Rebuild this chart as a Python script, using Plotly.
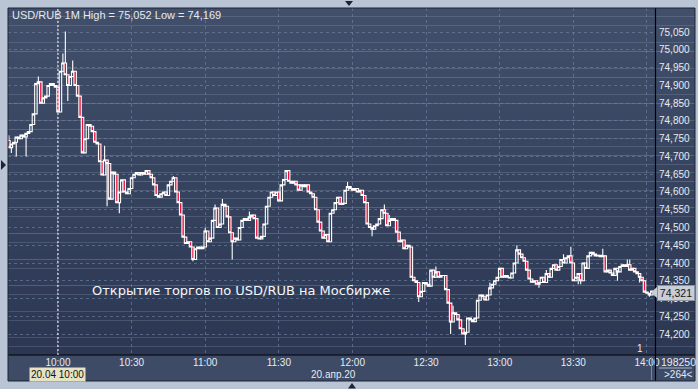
import plotly.graph_objects as go
import pandas as pd

# ---------------- data ----------------
# 1-minute closes, 20.04.2020 from 09:40 to 14:02
close = [
    74.725, 74.735, 74.740, 74.755, 74.750, 74.760, 74.755, 74.765, 74.770, 74.790,
    74.820, 74.905, 74.910, 74.850, 74.865, 74.870, 74.900, 74.905, 74.900, 74.895,
    74.825, 74.940, 74.963, 74.930, 74.900, 74.925, 74.940, 74.900, 74.870, 74.810,
    74.710, 74.750, 74.790, 74.785, 74.770, 74.740, 74.735, 74.685, 74.648, 74.690,
    74.680, 74.580, 74.656, 74.650, 74.570, 74.600, 74.634, 74.600, 74.595, 74.610,
    74.640, 74.650, 74.655, 74.648, 74.655, 74.650, 74.660, 74.650, 74.640, 74.620,
    74.590, 74.585, 74.595, 74.600, 74.590, 74.620, 74.630, 74.640, 74.600, 74.570,
    74.535, 74.473, 74.455, 74.460, 74.445, 74.410, 74.440, 74.445, 74.440, 74.445,
    74.490, 74.460, 74.470, 74.520, 74.555, 74.500, 74.510, 74.565, 74.560, 74.530,
    74.485, 74.460, 74.470, 74.465, 74.500, 74.520, 74.525, 74.520, 74.530, 74.535,
    74.525, 74.470, 74.468, 74.475, 74.510, 74.560, 74.585, 74.600, 74.590, 74.600,
    74.575, 74.620, 74.635, 74.660, 74.630, 74.625, 74.630, 74.620, 74.605, 74.620,
    74.615, 74.620, 74.600, 74.595, 74.585, 74.550, 74.515, 74.490, 74.470, 74.480,
    74.460, 74.540, 74.550, 74.570, 74.585, 74.565, 74.568, 74.605, 74.615, 74.610,
    74.605, 74.610, 74.600, 74.605, 74.590, 74.570, 74.510, 74.500, 74.495, 74.505,
    74.510, 74.525, 74.550, 74.540, 74.505, 74.520, 74.525, 74.520, 74.487, 74.460,
    74.465, 74.440, 74.450, 74.445, 74.360, 74.350, 74.345, 74.305, 74.320, 74.345,
    74.340, 74.335, 74.380, 74.360, 74.375, 74.360, 74.365, 74.365, 74.325, 74.287,
    74.234, 74.260, 74.255, 74.240, 74.215, 74.200, 74.205, 74.245, 74.240, 74.235,
    74.245, 74.295, 74.310, 74.305, 74.296, 74.310, 74.330, 74.340, 74.350, 74.360,
    74.385, 74.360, 74.365, 74.360, 74.358, 74.372, 74.400, 74.437, 74.425, 74.415,
    74.405, 74.380, 74.355, 74.346, 74.350, 74.340, 74.345, 74.360, 74.345, 74.370,
    74.360, 74.385, 74.395, 74.380, 74.390, 74.410, 74.400, 74.415, 74.420, 74.400,
    74.350, 74.360, 74.370, 74.350, 74.400, 74.385, 74.420, 74.430, 74.425, 74.420,
    74.422, 74.418, 74.420, 74.375, 74.380, 74.372, 74.365, 74.385, 74.375, 74.390,
    74.395, 74.390, 74.395, 74.380, 74.385, 74.375, 74.370, 74.360, 74.350, 74.318,
    74.315, 74.310, 74.321,
]
first_open = 74.745

# visible wick extremes, keyed by minutes after 10:00
high_wicks = {-20: 74.760, -8: 74.925, 2: 74.990, 3: 75.052, 6: 74.970, 19: 74.730,
              47: 74.645, 60: 74.500, 64: 74.565, 67: 74.580, 78: 74.545, 118: 74.628,
              133: 74.565, 135: 74.535, 154: 74.390, 161: 74.280, 176: 74.345,
              187: 74.450, 199: 74.380, 206: 74.425, 209: 74.446, 222: 74.440,
              232: 74.410, 233: 74.410}
low_wicks = {-19: 74.710, -17: 74.700, -13: 74.700, 4: 74.856, 20: 74.560, 25: 74.540,
             55: 74.405, 71: 74.410, 110: 74.462, 128: 74.475, 147: 74.290,
             160: 74.200, 166: 74.169, 196: 74.330, 212: 74.340, 213: 74.340,
             228: 74.350, 237: 74.345, 241: 74.305}

x_ticks = ["2020-04-20 10:00", "2020-04-20 10:30", "2020-04-20 11:00", "2020-04-20 11:30",
           "2020-04-20 12:00", "2020-04-20 12:30", "2020-04-20 13:00", "2020-04-20 13:30",
           "2020-04-20 14:00"]
x_labels = ["10:00", "10:30", "11:00", "11:30", "12:00", "12:30", "13:00", "13:30", "14:00"]
y_ticks = [74.20, 74.25, 74.30, 74.35, 74.40, 74.45, 74.50, 74.55, 74.60, 74.65,
           74.70, 74.75, 74.80, 74.85, 74.90, 74.95, 75.00, 75.05]
y_labels = ["74,200", "74,250", "74,300", "74,350", "74,400", "74,450", "74,500", "74,550",
            "74,600", "74,650", "74,700", "74,750", "74,800", "74,850", "74,900", "74,950",
            "75,000", "75,050"]
last_price_label = "74,321"

# ---------------- build OHLC ----------------
open_ = [first_open] + close[:-1]
high = [max(o, c) for o, c in zip(open_, close)]
low = [min(o, c) for o, c in zip(open_, close)]
for m, v in high_wicks.items():
    high[m + 20] = max(high[m + 20], v)
for m, v in low_wicks.items():
    low[m + 20] = min(low[m + 20], v)
times = pd.date_range("2020-04-20 09:40", periods=len(close), freq="min")

# ---------------- figure ----------------
W, H = 698, 389
L, R, T, B = 8, 655, 8, 355


def px(x):
    return (x - L) / (R - L)


def py(y):
    return (B - y) / (B - T)


fig = go.Figure()
fig.add_trace(go.Candlestick(
    x=times, open=open_, high=high, low=low, close=close,
    increasing=dict(line=dict(color="#ffffff", width=1.1), fillcolor="rgba(0,0,0,0)"),
    decreasing=dict(line=dict(color="#ffffff", width=1.1), fillcolor="#e8103a"),
    whiskerwidth=0, showlegend=False, hoverinfo="skip",
))

shapes = []
# gradient background for plot + right scale
n = 40
top_c = (65, 79, 106)
bot_c = (44, 56, 83)
for i in range(n):
    f = i / (n - 1)
    col = tuple(round(top_c[k] + (bot_c[k] - top_c[k]) * f) for k in range(3))
    y1 = 1 - i / n
    y0 = 1 - (i + 1) / n
    shapes.append(dict(type="rect", xref="paper", yref="paper", x0=0, x1=px(695),
                       y0=y0, y1=y1, fillcolor="rgb(%d,%d,%d)" % col,
                       line=dict(width=0), layer="below"))
# bottom time panel
shapes.append(dict(type="rect", xref="paper", yref="paper", x0=0, x1=px(695),
                   y0=py(381), y1=0, fillcolor="#3d4b66", line=dict(width=0), layer="below"))
# separators
shapes.append(dict(type="line", xref="paper", yref="paper", x0=px(655.5), x1=px(655.5),
                   y0=py(381), y1=1, line=dict(color="#000000", width=1.2)))
shapes.append(dict(type="line", xref="paper", yref="paper", x0=0, x1=px(695),
                   y0=py(355), y1=py(355), line=dict(color="#000000", width=1.2)))
# outer dark border
shapes.append(dict(type="rect", xref="paper", yref="paper", x0=px(8), x1=px(695),
                   y0=py(381), y1=py(8), line=dict(color="#1c2434", width=1)))
# 10:00 dotted marker
shapes.append(dict(type="line", xref="x", yref="paper", x0="2020-04-20 10:00",
                   x1="2020-04-20 10:00", y0=0, y1=1,
                   line=dict(color="#ffffff", width=1, dash="2px,2px")))
# corner separator
shapes.append(dict(type="line", xref="paper", yref="paper", x0=px(659), x1=px(692),
                   y0=py(368), y1=py(368), line=dict(color="#aab4c6", width=1)))
# small marker near 14:00 in time panel
shapes.append(dict(type="line", xref="paper", yref="paper", x0=px(651.5), x1=px(651.5),
                   y0=py(380), y1=py(357), line=dict(color="#7a869c", width=1)))
# last price arrow
shapes.append(dict(type="path", xref="paper", yref="paper",
                   path="M %f,%f L %f,%f L %f,%f Z" % (px(651), py(292.5), px(658), py(286),
                                                        px(658), py(299)),
                   fillcolor="#c9cdd6", line=dict(width=0)))
# window-edge triangles
tri_col = "#1c2434"
shapes.append(dict(type="path", xref="paper", yref="paper",
                   path="M %f,%f L %f,%f L %f,%f Z" % (px(345), py(1), px(353), py(1),
                                                        px(349), py(6)),
                   fillcolor=tri_col, line=dict(width=0)))
shapes.append(dict(type="path", xref="paper", yref="paper",
                   path="M %f,%f L %f,%f L %f,%f Z" % (px(1), py(160), px(1), py(170),
                                                        px(6), py(165)),
                   fillcolor=tri_col, line=dict(width=0)))
shapes.append(dict(type="path", xref="paper", yref="paper",
                   path="M %f,%f L %f,%f L %f,%f Z" % (px(348), py(388.5), px(356), py(388.5),
                                                        px(352), py(383)),
                   fillcolor=tri_col, line=dict(width=0)))

txt = "#e6eaf2"
fam = "Liberation Sans, Arial, sans-serif"
annotations = [
    dict(xref="paper", yref="paper", x=px(10), y=py(15), xanchor="left", yanchor="middle",
         text="USD/RUB 1M High = 75,052 Low = 74,169", showarrow=False,
         font=dict(family=fam, size=11, color=txt)),
    dict(xref="paper", yref="paper", x=px(241), y=py(290), xanchor="center", yanchor="middle",
         text="Открытие торгов по USD/RUB на Мосбирже", showarrow=False,
         font=dict(family="DejaVu Sans, sans-serif", size=13, color="#f4f6fa")),
    dict(xref="paper", yref="paper", x=px(333), y=py(375), xanchor="center", yanchor="middle",
         text="20.апр.20", showarrow=False, font=dict(family=fam, size=10, color=txt)),
    dict(xref="paper", yref="paper", x=px(57.5), y=py(375), xanchor="center", yanchor="middle",
         text="20.04 10:00", showarrow=False, bgcolor="#e6e2c4", borderpad=1,
         font=dict(family=fam, size=10, color="#111111")),
    dict(xref="paper", yref="paper", x=px(659), y=py(362), xanchor="left", yanchor="middle",
         text="198250", showarrow=False, font=dict(family=fam, size=10.5, color=txt)),
    dict(xref="paper", yref="paper", x=px(662), y=py(374), xanchor="left", yanchor="middle",
         text="&gt;264&lt;", showarrow=False, font=dict(family=fam, size=10, color=txt)),
    dict(xref="paper", yref="paper", x=px(640), y=py(348), xanchor="center", yanchor="middle",
         text="1", showarrow=False, font=dict(family=fam, size=10, color=txt)),
    dict(xref="paper", yref="paper", x=px(676), y=py(292.5), xanchor="center", yanchor="middle",
         text=last_price_label, showarrow=False, bgcolor="#c9cdd6", bordercolor="#8c929e",
         borderwidth=1, borderpad=1, width=34,
         font=dict(family=fam, size=10.5, color="#151515")),
]

grid_col = "rgba(112,128,160,0.65)"
fig.update_layout(
    width=W, height=H,
    margin=dict(l=L, r=W - R, t=T, b=H - B, pad=0),
    paper_bgcolor="#b9c5d5",
    plot_bgcolor="rgba(0,0,0,0)",
    boxgap=0, boxgroupgap=0,
    shapes=shapes,
    annotations=annotations,
    showlegend=False,
    xaxis=dict(
        type="date", range=["2020-04-20 09:39:38", "2020-04-20 14:03:17"],
        tickmode="array", tickvals=x_ticks, ticktext=x_labels,
        showgrid=True, gridcolor=grid_col, griddash="3px,3px", gridwidth=1,
        zeroline=False, showline=False, ticks="",
        tickfont=dict(family=fam, size=10, color=txt),
        rangeslider=dict(visible=False), fixedrange=True,
    ),
    yaxis=dict(
        side="right", range=[74.141, 75.118],
        tickmode="array", tickvals=y_ticks, ticktext=y_labels,
        showgrid=True, gridcolor=grid_col, griddash="3px,3px", gridwidth=1,
        zeroline=False, showline=False, ticks="", ticklabelstandoff=3,
        tickfont=dict(family=fam, size=10, color=txt), fixedrange=True,
    ),
)

fig.write_html("out.html")
